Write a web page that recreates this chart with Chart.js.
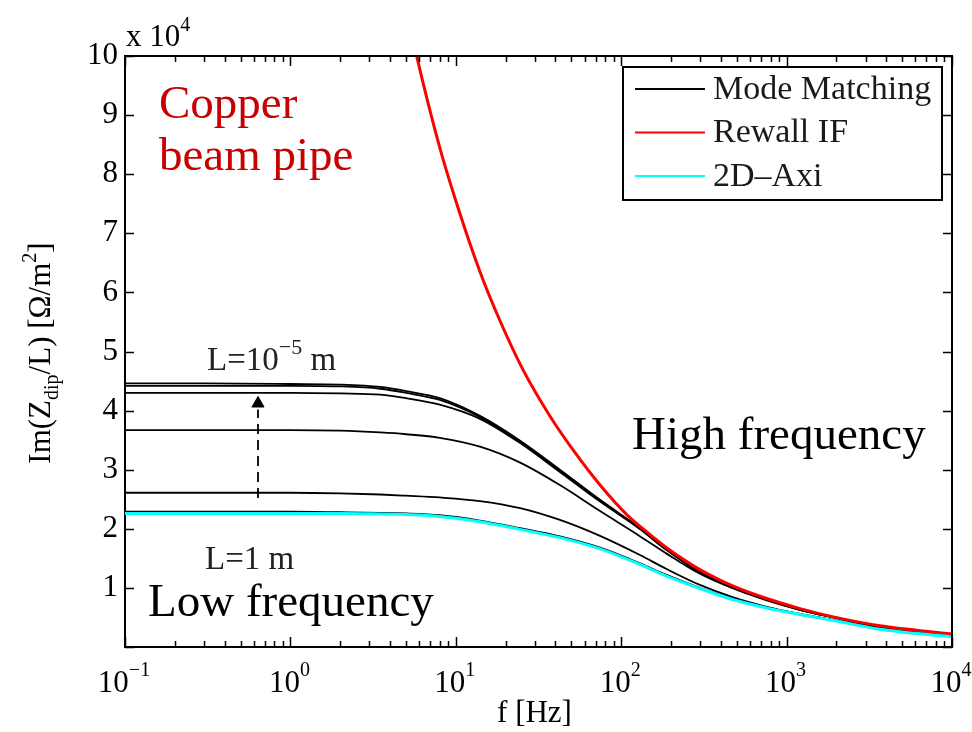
<!DOCTYPE html>
<html>
<head>
<meta charset="utf-8">
<title>Im(Z_dip/L) vs frequency</title>
<script src="https://cdn.jsdelivr.net/npm/chart.js@4.4.1/dist/chart.umd.min.js"></script>
<style>
  html, body { margin: 0; padding: 0; background: #fff; }
  #wrap { width: 972px; height: 732px; }
  canvas { display: block; }
</style>
</head>
<body>
<div id="wrap"><canvas id="chart" width="972" height="732"></canvas></div>
<script>
// ---- data (impedance values in units of 1e4 Ohm/m^2) ----
const freqMM = [0.1, 0.3, 1, 2, 3.5, 5, 8, 14, 24.5, 42.6, 74.5, 129, 188, 299, 476, 759, 1205, 1916, 3670, 10000];

// Mode matching, from the shortest pipe (L = 1e-5 m) down to L = 1 m
const mmA = [4.46, 4.46, 4.45, 4.44, 4.40, 4.33, 4.21, 3.91, 3.49, 3.00, 2.49, 2.02, 1.66, 1.28, 1.01, 0.81, 0.64, 0.51, 0.34, 0.21];
const mmB = [4.42, 4.42, 4.42, 4.41, 4.37, 4.30, 4.18, 3.89, 3.47, 2.98, 2.48, 2.01, 1.65, 1.27, 1.00, 0.80, 0.63, 0.50, 0.33, 0.20];
const mmC = [4.30, 4.30, 4.30, 4.29, 4.27, 4.21, 4.10, 3.86, 3.45, 2.96, 2.46, 2.00, 1.64, 1.26, 1.00, 0.80, 0.63, 0.50, 0.33, 0.20];
const mmD = [3.67, 3.67, 3.67, 3.66, 3.63, 3.60, 3.54, 3.39, 3.12, 2.74, 2.30, 1.88, 1.58, 1.24, 0.99, 0.79, 0.63, 0.50, 0.33, 0.20];
const mmE = [2.61, 2.61, 2.61, 2.60, 2.58, 2.56, 2.53, 2.47, 2.35, 2.15, 1.88, 1.56, 1.32, 1.05, 0.84, 0.68, 0.56, 0.46, 0.31, 0.18];
const mmF = [2.29, 2.29, 2.29, 2.28, 2.27, 2.26, 2.23, 2.14, 2.01, 1.87, 1.68, 1.42, 1.22, 1.00, 0.81, 0.67, 0.55, 0.45, 0.30, 0.18];

// 2D axisymmetric simulation
const axi2D = [2.26, 2.26, 2.26, 2.26, 2.25, 2.24, 2.21, 2.12, 1.99, 1.85, 1.66, 1.40, 1.20, 0.99, 0.80, 0.66, 0.55, 0.45, 0.30, 0.17];

// Resistive-wall impedance formula
const freqRW = [5.5, 5.8, 8.0, 10.6, 14, 18.5, 25.6, 37.2, 51.3, 74.5, 108, 156, 188, 299, 476, 759, 1205, 1916, 3670, 10000];
const rewallIF = [10.3, 10.0, 8.45, 7.33, 6.35, 5.52, 4.68, 3.90, 3.33, 2.74, 2.24, 1.86, 1.68, 1.31, 1.03, 0.82, 0.65, 0.51, 0.36, 0.22];

// Arrow showing the trend from L = 1 m to L = 1e-5 m
const arrowFreq = 0.637;
const arrowShaft = [2.52, 4.02];
const arrowTip = 4.12;

// Axis ticks
const xDecadeExponents = [-1, 0, 1, 2, 3, 4];
const yTickValues = [0, 1, 2, 3, 4, 5, 6, 7, 8, 9, 10];

const SERIF = '"Liberation Serif", "Times New Roman", Times, serif';

const pts = (xs, ys) => xs.map((f, i) => ({ x: f, y: ys[i] }));

const mmStyle = {
  borderColor: '#000', borderWidth: 1.8, pointRadius: 0,
  cubicInterpolationMode: 'monotone', order: 2
};

const datasets = [
  { label: '2D–Axi', data: pts(freqMM, axi2D), borderColor: '#00ffff', borderWidth: 3,
    pointRadius: 0, cubicInterpolationMode: 'monotone', order: 0, inLegend: 3 },
  { label: 'Rewall IF', data: pts(freqRW, rewallIF), borderColor: '#ff0000', borderWidth: 3,
    pointRadius: 0, cubicInterpolationMode: 'monotone', order: 1, inLegend: 2 },
  Object.assign({ label: 'Mode Matching', data: pts(freqMM, mmA), inLegend: 1 }, mmStyle),
  Object.assign({ label: 'Mode Matching', data: pts(freqMM, mmB) }, mmStyle),
  Object.assign({ label: 'Mode Matching', data: pts(freqMM, mmC) }, mmStyle),
  Object.assign({ label: 'Mode Matching', data: pts(freqMM, mmD) }, mmStyle),
  Object.assign({ label: 'Mode Matching', data: pts(freqMM, mmE) }, mmStyle),
  Object.assign({ label: 'Mode Matching', data: pts(freqMM, mmF) }, mmStyle),
  { label: 'arrow', data: arrowShaft.map(v => ({ x: arrowFreq, y: v })), borderColor: '#000',
    borderWidth: 1.8, borderDash: [10, 6], pointRadius: 0, order: 3 },
  { label: 'arrow head', data: [{ x: arrowFreq, y: arrowTip }], showLine: false,
    pointStyle: 'triangle', pointRadius: 7, backgroundColor: '#000', borderColor: '#000',
    borderWidth: 1, order: 3 }
];

function drawRich(ctx, parts, x, y) {
  // parts: [{t, size, dy}] drawn left to right along the baseline
  let cx = x;
  for (const p of parts) {
    ctx.font = p.size + 'px ' + SERIF;
    ctx.fillText(p.t, cx, y + (p.dy || 0));
    cx += ctx.measureText(p.t).width;
  }
  return cx;
}
function richWidth(ctx, parts) {
  let w = 0;
  for (const p of parts) { ctx.font = p.size + 'px ' + SERIF; w += ctx.measureText(p.t).width; }
  return w;
}

const decor = {
  id: 'decor',
  afterDraw(chart) {
    const { ctx, chartArea: a, scales: { x, y } } = chart;
    ctx.save();

    // box top/right edges
    ctx.strokeStyle = '#000';
    ctx.lineWidth = 2;
    ctx.beginPath();
    ctx.moveTo(a.left, a.top); ctx.lineTo(a.right, a.top); ctx.lineTo(a.right, a.bottom);
    ctx.stroke();

    // inward tick marks on all four sides
    ctx.lineWidth = 1.5;
    ctx.beginPath();
    for (const e of xDecadeExponents) {
      for (let m = 1; m <= 9; m++) {
        const v = m * Math.pow(10, e);
        if (v > 10000 * 1.0001) break;
        const px = Math.round(x.getPixelForValue(v)) + 0.5;
        const len = m === 1 ? 10 : 6;
        ctx.moveTo(px, a.bottom); ctx.lineTo(px, a.bottom - len);
        ctx.moveTo(px, a.top); ctx.lineTo(px, a.top + len);
      }
    }
    for (const v of yTickValues) {
      const py = Math.round(y.getPixelForValue(v)) + 0.5;
      ctx.moveTo(a.left, py); ctx.lineTo(a.left + 9, py);
      ctx.moveTo(a.right, py); ctx.lineTo(a.right - 9, py);
    }
    ctx.stroke();

    // x tick labels 10^n
    ctx.fillStyle = '#000';
    ctx.textBaseline = 'alphabetic';
    ctx.textAlign = 'left';
    for (const e of xDecadeExponents) {
      const px = x.getPixelForValue(Math.pow(10, e));
      const parts = [{ t: '10', size: 31 }, { t: e < 0 ? '\u2212' + (-e) : String(e), size: 20, dy: -16 }];
      const w = richWidth(ctx, parts);
      drawRich(ctx, parts, px - w / 2 - 1, 692);
    }

    // x axis title
    ctx.font = '31px ' + SERIF;
    ctx.textAlign = 'center';
    ctx.fillText('f [Hz]', (a.left + a.right) / 2 - 4, 722);
    ctx.textAlign = 'left';

    // multiplier above the y axis
    drawRich(ctx, [{ t: 'x 10', size: 31 }, { t: '4', size: 20, dy: -15 }], a.left + 1, 46);

    // y axis title, rotated
    const yParts = [
      { t: 'Im(Z', size: 31 }, { t: 'dip', size: 20, dy: 8 },
      { t: '/L) [\u03A9/m', size: 31 }, { t: '2', size: 20, dy: -14 }, { t: ']', size: 31 }
    ];
    ctx.save();
    ctx.translate(50, 353);
    ctx.rotate(-Math.PI / 2);
    const yw = richWidth(ctx, yParts);
    drawRich(ctx, yParts, -yw / 2, 0);
    ctx.restore();

    // annotations
    ctx.fillStyle = '#c80000';
    ctx.font = '47px ' + SERIF;
    ctx.fillText('Copper', 159, 118);
    ctx.fillText('beam pipe', 159, 170);

    ctx.fillStyle = '#000';
    ctx.fillText('Low frequency', 148, 616);
    ctx.fillText('High frequency', 632, 449);

    ctx.fillStyle = '#222';
    drawRich(ctx, [{ t: 'L=10', size: 33 }, { t: '\u22125', size: 22, dy: -16 }, { t: ' m', size: 33 }], 207, 370);
    ctx.font = '33px ' + SERIF;
    ctx.fillText('L=1 m', 205, 569);

    // legend
    const lg = { left: 623, top: 67, right: 942, bottom: 200 };
    ctx.fillStyle = '#fff';
    ctx.fillRect(lg.left, lg.top, lg.right - lg.left, lg.bottom - lg.top);
    ctx.strokeStyle = '#000';
    ctx.lineWidth = 2;
    ctx.strokeRect(lg.left, lg.top, lg.right - lg.left, lg.bottom - lg.top);
    const entries = chart.data.datasets.filter(d => d.inLegend).sort((p, q) => p.inLegend - q.inLegend);
    entries.forEach((d, i) => {
      const ry = 89 + i * 43.5;
      ctx.strokeStyle = d.borderColor;
      ctx.lineWidth = 2;
      ctx.beginPath();
      ctx.moveTo(635, ry); ctx.lineTo(705, ry);
      ctx.stroke();
      ctx.fillStyle = '#1a1a1a';
      ctx.font = '34px ' + SERIF;
      ctx.textBaseline = 'middle';
      ctx.fillText(d.label, 713, ry + 1);
    });

    ctx.restore();
  }
};

Chart.defaults.font.family = SERIF;

new Chart(document.getElementById('chart'), {
  type: 'line',
  data: { datasets },
  options: {
    responsive: false,
    animation: false,
    devicePixelRatio: 1,
    layout: { padding: { top: 56, right: 20, left: 0, bottom: 0 } },
    plugins: { legend: { display: false }, tooltip: { enabled: false } },
    scales: {
      x: {
        type: 'logarithmic',
        min: 0.1, max: 10000,
        ticks: { display: false },
        grid: { display: false, drawTicks: false },
        border: { display: true, color: '#000', width: 2 },
        afterFit(scale) { scale.height = 85; }
      },
      y: {
        type: 'linear',
        min: 0, max: 10,
        ticks: {
          stepSize: 1, autoSkip: false, padding: 7, color: '#000',
          font: { family: SERIF, size: 31 },
          callback: v => (v === 0 ? '' : String(v))
        },
        grid: { display: false, drawTicks: false },
        border: { display: true, color: '#000', width: 2 },
        afterFit(scale) { scale.width = 125; }
      }
    }
  },
  plugins: [decor]
});
</script>
</body>
</html>
